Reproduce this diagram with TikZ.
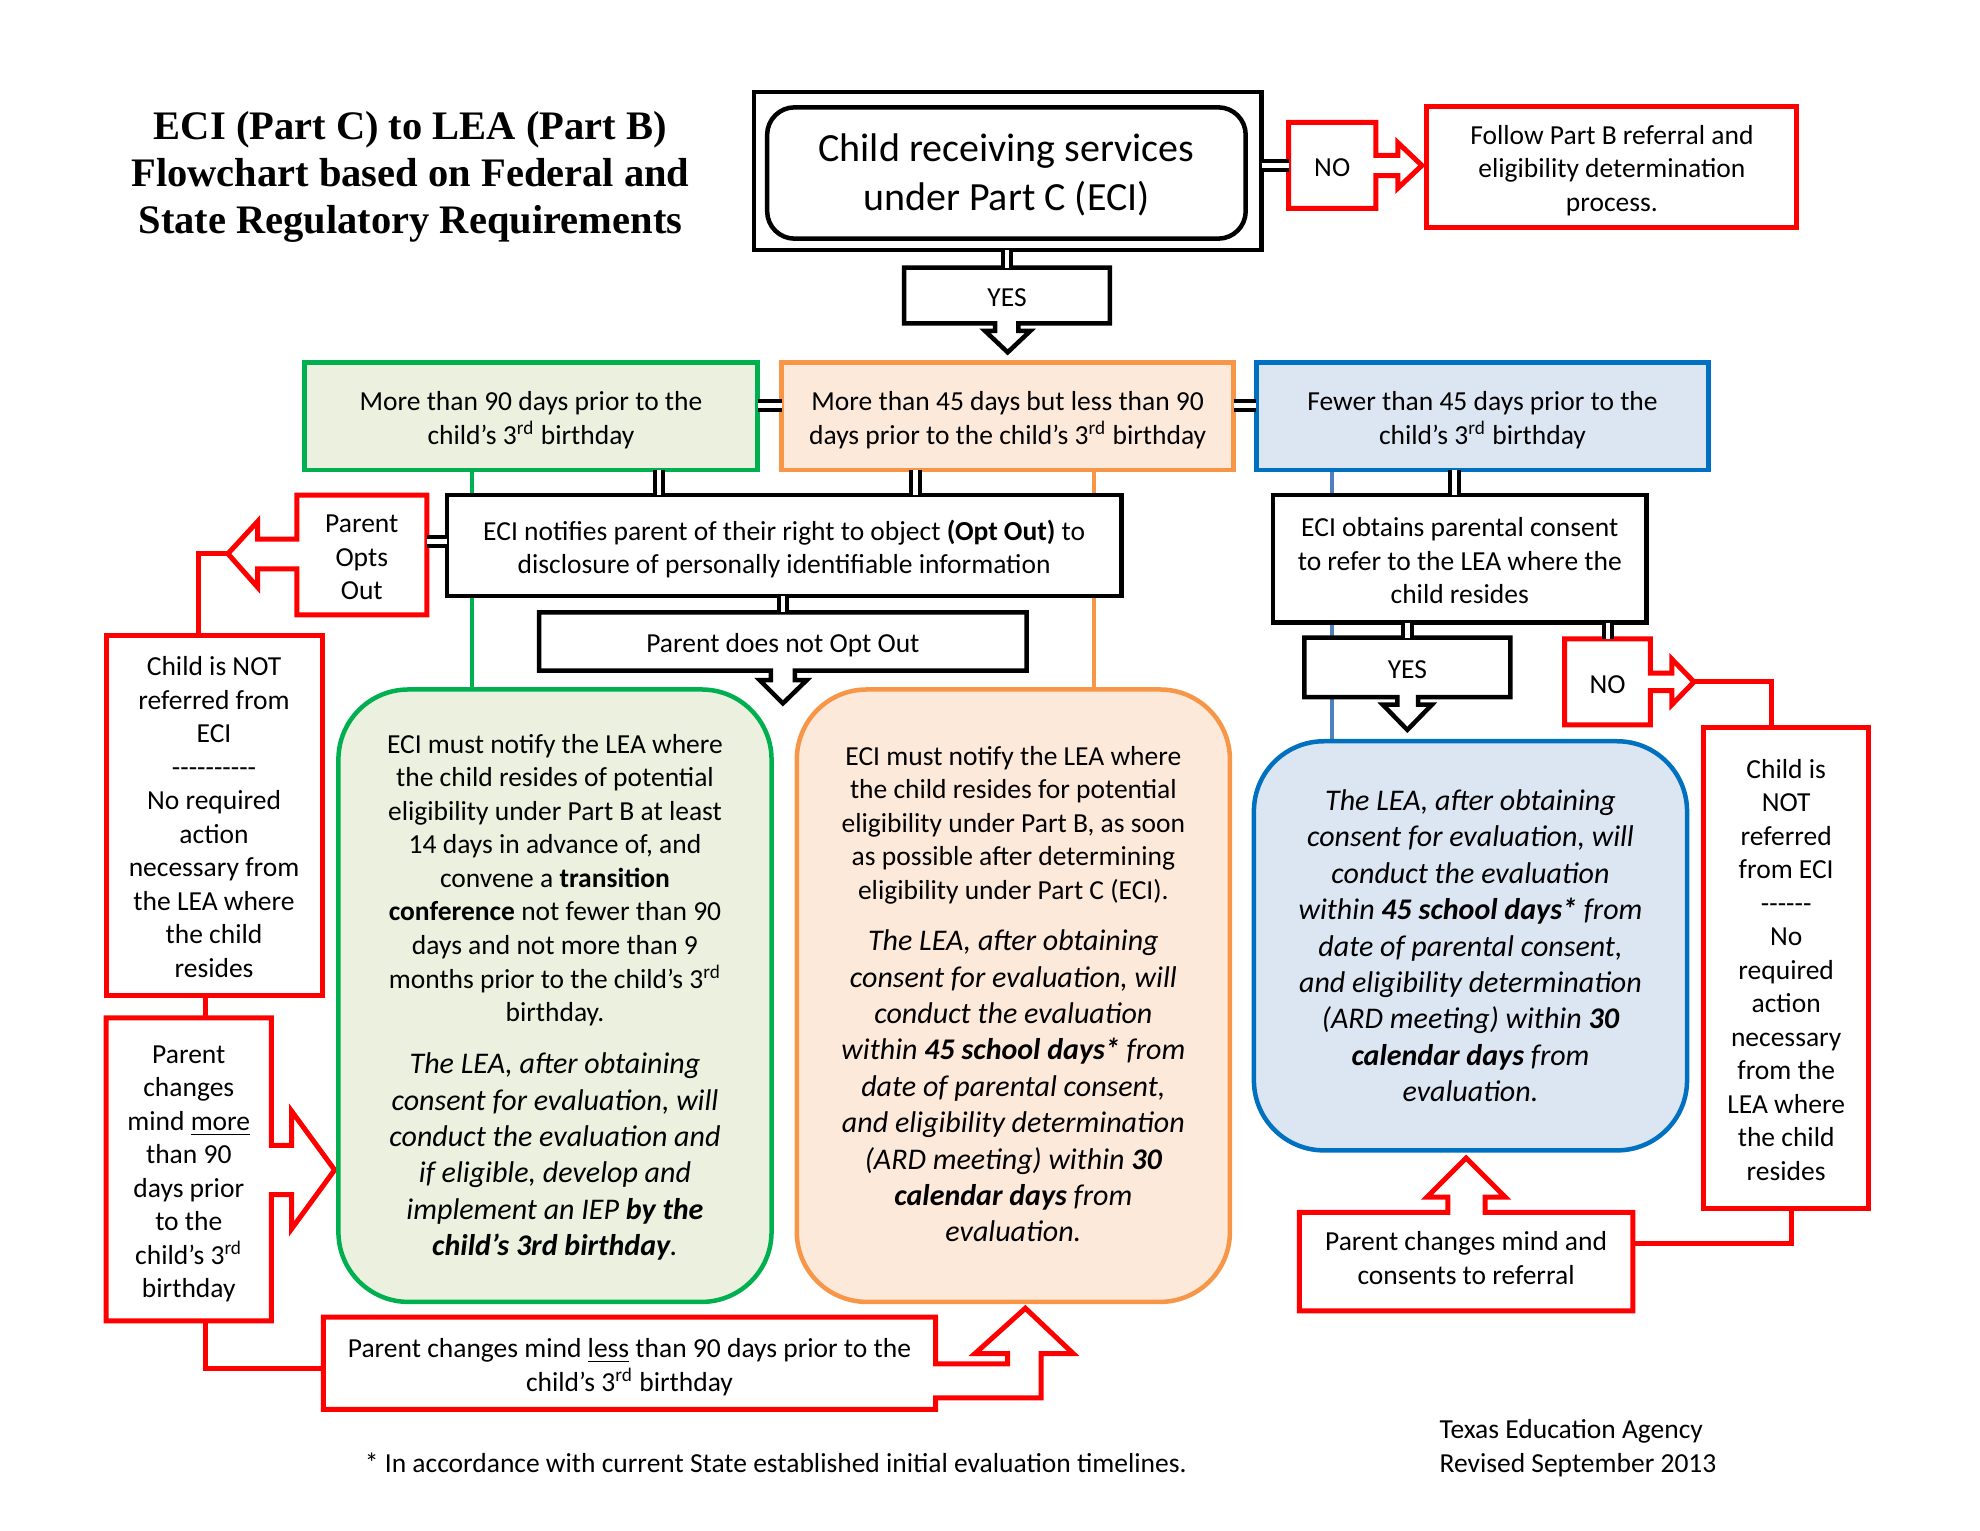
\documentclass[tikz,border=0pt]{standalone}
\usepackage{fontspec}
\setmainfont{Carlito}
\newfontfamily\titlefont{Liberation Serif}
\usetikzlibrary{calc}
\pgfdeclarelayer{bg}
\pgfsetlayers{bg,main}
\definecolor{ggreen}{HTML}{00B050}
\definecolor{gfill}{HTML}{EBF1DE}
\definecolor{oorange}{HTML}{F79646}
\definecolor{ofill}{HTML}{FDE9D9}
\definecolor{bblue}{HTML}{0070C0}
\definecolor{bfill}{HTML}{DCE6F2}
\definecolor{bline}{HTML}{4F81BD}
\newcommand\hy{\hbox{-}}
\tikzset{
 px/.style 2 args={minimum width=#1*0.505pt, minimum height=#2*0.505pt},
 tht/.style={text height=#1pt, text depth=0pt},
 boxbase/.style={inner sep=0pt, outer sep=0pt, align=center, font=\fontsize{11}{13.4}\selectfont},
 blackbox/.style={boxbase, draw=black, line width=1.8pt, fill=white},
 redbox/.style={boxbase, draw=red, line width=2pt, fill=white},
 callbox/.style={boxbase, fill=white},
 catbox/.style={boxbase, line width=1.8pt},
 bigbox/.style={boxbase, line width=1.8pt, rounded corners=28pt},
 redout/.style={draw=red, line width=2pt, line join=miter},
 blackout/.style={draw=black, line width=1.8pt, line join=miter},
 dbl/.style={draw=black, line width=1.6pt, double=white, double distance=1.8pt},
 redline/.style={draw=red, line width=2pt},
 thinline/.style={line width=1.6pt},
 txt/.style={inner sep=0pt, align=center, font=\fontsize{11}{13.4}\selectfont},
 itx/.style={inner sep=0pt, align=center, font=\itshape\fontsize{12}{14.55}\selectfont},
}
\begin{document}
\begin{tikzpicture}[x=0.505pt,y=-0.505pt]
\useasboundingbox (0,0) rectangle (1568,1212);

% helper abscissas
\coordinate (xg) at (522,0);
\coordinate (xo) at (725,0);
\coordinate (xb) at (1152,0);
\coordinate (xn) at (620,0);
\coordinate (xy2) at (1114.5,0);
\coordinate (xn2) at (1273.5,0);
\coordinate (xgl) at (374,0);
\coordinate (xol) at (866,0);
\coordinate (xbl) at (1055,0);
\coordinate (xr1) at (157,0);
\coordinate (xr2) at (163,0);
\coordinate (xr3) at (1403,0);
\coordinate (xr4) at (1419,0);

% title
\node[inner sep=0pt, align=center, font=\titlefont\bfseries\fontsize{16.2}{18.7}\selectfont] (title) at (325,140)
 {ECI (Part C) to LEA (Part B)\\Flowchart based on Federal and\\State Regulatory Requirements};

% top box
\node[blackbox, px={402}{125}] (topouter) at (798,135.5) {};
\node[blackbox, rounded corners=11pt, px={379}{104}, font=\fontsize{16}{19.5}\selectfont, tht=29.8] (topinner) at (797,137)
 {Child receiving services\\under Part C (ECI)};

\node[callbox, px={69}{68}, tht=9] (no1) at (1055,131) {NO};
\draw[redout] (no1.north west) -- (no1.north east) -- ++(0,26) -- ++(17.5,0) -- ++(0,-10) -- ++(19,18) coordinate (no1tip)
 -- ++(-19,18) -- ++(0,-10) -- ++(-17.5,0) -- (no1.south east) -- (no1.south west) -- cycle;
\node[redbox, px={293}{96}, tht=35.8] (follow) at (1276.5,132) {Follow Part B referral and\\eligibility determination\\process.};

\node[callbox, px={163}{44}, tht=9] (yes1) at (797.5,234) {YES};
\draw[blackout] (yes1.south west) -- (yes1.north west) -- (yes1.north east) -- (yes1.south east) -- ++(-72.5,0) -- ++(0,6)
 -- ++(9.5,0) -- ++(-18,17) coordinate (yes1tip) -- ++(-18,-17) -- ++(8,0) -- ++(0,-6) -- cycle;

% category boxes
\node[catbox, draw=ggreen, fill=gfill, px={359}{85}, tht=22.4] (green1) at (420.5,329.5) {More than 90 days prior to the\\child’s 3\textsuperscript{rd} birthday};
\node[catbox, draw=oorange, fill=ofill, px={358}{85}, tht=22.4] (orange1) at (798,329.5) {More than 45 days but less than 90\\days prior to the child’s 3\textsuperscript{rd} birthday};
\node[catbox, draw=bblue, fill=bfill, px={358}{85}, tht=22.4] (blue1) at (1174,329.5) {Fewer than 45 days prior to the\\child’s 3\textsuperscript{rd} birthday};

% second row
\node[blackbox, px={534}{80}, tht=22.4] (notify) at (621,432) {ECI notifies parent of their right to object \textbf{(Opt Out)} to\\disclosure of personally identifiable information};

\node[callbox, px={103}{95}, tht=35.8] (optsout) at (286.5,439.5) {Parent\\Opts\\Out};
\draw[redout] (optsout.north east) -- (optsout.north west) -- ++(0,35) -- ++(-31,0) -- ++(0,-14) -- ++(-23.5,25.5) coordinate (optstip)
 -- ++(23.5,26.5) -- ++(0,-14.5) -- ++(31,0) -- (optsout.south west) -- (optsout.south east) -- cycle;

\node[callbox, px={386}{46}, tht=9] (notopt) at (620,508) {Parent does not Opt Out};
\draw[blackout] (notopt.south west) -- (notopt.north west) -- (notopt.north east) -- (notopt.south east) -- ++(-183.5,0) -- ++(0,7.5)
 -- ++(9.5,0) -- ++(-19,18.5) coordinate (notopttip) -- ++(-18.5,-18.5) -- ++(9,0) -- ++(0,-7.5) -- cycle;

\node[blackbox, px={296}{101}, tht=35.8] (consent) at (1156,442.5) {ECI obtains parental consent\\to refer to the LEA where the\\child resides};

\node[callbox, px={163}{47}, tht=9] (yes2) at (1114.5,528.5) {YES};
\draw[blackout] (yes2.south west) -- (yes2.north west) -- (yes2.north east) -- (yes2.south east) -- ++(-73,0) -- ++(0,6)
 -- ++(11,0) -- ++(-19.5,20) coordinate (yes2tip) -- ++(-19.5,-20) -- ++(11.5,0) -- ++(0,-6) -- cycle;

\node[callbox, px={68}{68}, tht=9] (no2) at (1273,540) {NO};
\draw[redout] (no2.north west) -- (no2.north east) -- ++(0,27) -- ++(17,0) -- ++(0,-11) -- ++(17.5,18) coordinate (no2tip)
 -- ++(-17.5,18) -- ++(0,-11) -- ++(-17,0) -- (no2.south east) -- (no2.south west) -- cycle;

% left side
\node[redbox, px={171}{285}, tht=129.6] (childnot1) at (169.5,645.5) {Child is NOT\\referred from\\ECI\\\hy\hy\hy\hy\hy\hy\hy\hy\hy\hy\\No required\\action\\necessary from\\the LEA where\\the child\\resides};

\node[callbox, px={131}{240}, tht=102.8] (changesmore) at (149.5,926) {Parent\\changes\\mind \underline{more}\\than 90\\days prior\\to the\\child’s 3\textsuperscript{rd}\\birthday};
\draw[redout] (changesmore.north west) -- (changesmore.north east) -- ++(0,101) -- ++(16,0) -- ++(0,-27) -- ++(34,46.5) coordinate (moretip)
 -- ++(-34,46.5) -- ++(0,-27) -- ++(-16,0) -- (changesmore.south east) -- (changesmore.south west) -- cycle;

\node[callbox, px={485}{73}, tht=22.4] (lessbox) at (498.5,1079.5) {Parent changes mind \underline{less} than 90 days prior to the\\child’s 3\textsuperscript{rd} birthday};
\draw[redout] (lessbox.north west) -- (lessbox.north east) -- ++(0,37) -- ++(57,0) -- ++(0,-8) -- ++(-26,0) -- ++(40,-36) coordinate (lesstip)
 -- ++(38,36) -- ++(-25.5,0) -- ++(0,35) -- ++(-83.5,0) -- (lessbox.south east) -- (lessbox.south west) -- cycle;

% rounded content boxes
\node[bigbox, draw=ggreen, fill=gfill, px={343}{485}] (greenbox) at (439.5,788.5) {};
\node[txt] (greenA) at (439.5,697) {ECI must notify the LEA where\\the child resides of potential\\eligibility under Part B at least\\14 days in advance of, and\\convene a \textbf{transition}\\\textbf{conference} not fewer than 90\\days and not more than 9\\months prior to the child’s 3\textsuperscript{rd}\\birthday.};
\node[itx] (greenB) at (439.5,916) {The LEA, after obtaining\\consent for evaluation, will\\conduct the evaluation and\\if eligible, develop and\\implement an IEP \textbf{by the}\\\textbf{child’s 3rd birthday}.};

\node[bigbox, draw=oorange, fill=ofill, px={343}{485}] (orangebox) at (802.5,788.5) {};
\node[txt] (orangeA) at (802.5,653.5) {ECI must notify the LEA where\\the child resides for potential\\eligibility under Part B, as soon\\as possible after determining\\eligibility under Part C (ECI).};
\node[itx] (orangeB) at (802.5,860) {The LEA, after obtaining\\consent for evaluation, will\\conduct the evaluation\\within \textbf{45 school days*} from\\date of parental consent,\\and eligibility determination\\(ARD meeting) within \textbf{30}\\\textbf{calendar days} from\\evaluation.};

\node[bigbox, draw=bblue, fill=bfill, px={343}{324}, itx] (bluebox) at (1164.5,749) {The LEA, after obtaining\\consent for evaluation, will\\conduct the evaluation\\within \textbf{45 school days*} from\\date of parental consent,\\and eligibility determination\\(ARD meeting) within \textbf{30}\\\textbf{calendar days} from\\evaluation.};

% right side
\node[redbox, px={131}{381}, tht=169.8] (childnot2) at (1414.5,766.5) {Child is\\NOT\\referred\\from ECI\\\hy\hy\hy\hy\hy\hy\\No\\required\\action\\necessary\\from the\\LEA where\\the child\\resides};

\node[callbox, px={264}{78}, tht=18.1] (consentref) at (1161,999) {Parent changes mind and\\consents to referral};
\draw[redout] (consentref.south west) -- (consentref.north west) -- ++(117.5,0) -- ++(0,-12) -- ++(-16.5,0) -- ++(31,-31) coordinate (reftip)
 -- ++(31,31) -- ++(-16,0) -- ++(0,12) -- (consentref.north east) -- (consentref.south east) -- cycle;

% footer
\node[boxbase, anchor=west] (foot) at (289,1158.5) {* In accordance with current State established initial evaluation timelines.};
\node[boxbase, anchor=west, align=left] (tea) at (1140,1147) {Texas Education Agency\\Revised September 2013};

% thin coloured lines behind boxes
\begin{pgfonlayer}{bg}
\draw[thinline, ggreen] (green1.south -| xgl) -- (greenbox.north -| xgl);
\draw[thinline, oorange] (orange1.south -| xol) -- (orangebox.north -| xol);
\draw[thinline, bline] (blue1.south -| xbl) -- (bluebox.north -| xbl);
\end{pgfonlayer}

% double connectors
\draw[dbl] (topouter.east |- no1.west) -- (no1.west);
\draw[dbl] (topouter.south -| yes1.north) -- (yes1.north);
\draw[dbl] ($(green1.east)+(0,-8.5)$) -- ($(orange1.west)+(0,-8.5)$);
\draw[dbl] ($(orange1.east)+(0,-8.5)$) -- ($(blue1.west)+(0,-8.5)$);
\draw[dbl] (green1.south -| xg) -- (notify.north -| xg);
\draw[dbl] (orange1.south -| xo) -- (notify.north -| xo);
\draw[dbl] ($(notify.west)+(0,-3)$) -- ($(optsout.east)+(0,-10.5)$);
\draw[dbl] (notify.south -| xn) -- (notopt.north -| xn);
\draw[dbl] (blue1.south -| xb) -- (consent.north -| xb);
\draw[dbl] (consent.south -| xy2) -- (yes2.north -| xy2);
\draw[dbl] (consent.south -| xn2) -- (no2.north -| xn2);

% red connectors
\draw[redline] (optstip) -| (childnot1.north -| xr1);
\draw[redline] (childnot1.south -| xr2) -- (changesmore.north -| xr2);
\draw[redline] (changesmore.south -| xr2) |- ($(lessbox.west)+(0,4.5)$);
\draw[redline] (no2tip) -| (childnot2.north -| xr3);
\draw[redline] (childnot2.south -| xr4) |- ($(consentref.east)+(0,-14)$);
\end{tikzpicture}
\end{document}
